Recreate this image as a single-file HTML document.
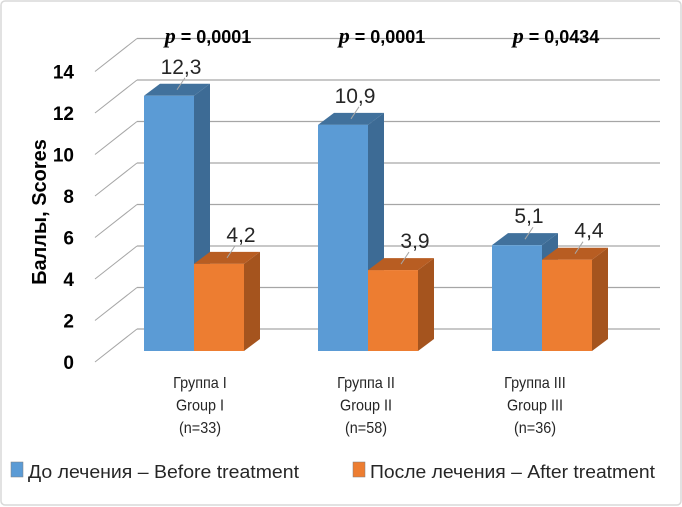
<!DOCTYPE html>
<html><head><meta charset="utf-8"><style>
body{margin:0;background:#fff;}
#wrap{position:relative;width:682px;height:507px;overflow:hidden;}
svg{position:absolute;left:0;top:0;}
</style></head><body>
<div id="wrap">
<svg id="chart" width="682" height="507" xmlns="http://www.w3.org/2000/svg"></svg>
</div>
<script>
const categories = [["Группа I","Group I","(n=33)"],["Группа II","Group II","(n=58)"],["Группа III","Group III","(n=36)"]];
const beforeValues = [12.3, 10.9, 5.1];
const afterValues = [4.2, 3.9, 4.4];
const valueLabels = [["12,3","4,2"],["10,9","3,9"],["5,1","4,4"]];
const pValues = ["= 0,0001","= 0,0001","= 0,0434"];
const yTicks = [0,2,4,6,8,10,12,14];

const NS="http://www.w3.org/2000/svg";
const svg=document.getElementById('chart');
function mk(tag,attrs,parent){const e=document.createElementNS(NS,tag);for(const k in attrs)e.setAttribute(k,attrs[k]);(parent||svg).appendChild(e);return e;}
const yBack=v=>329-v*20.75;
const yFront=v=>351-v*20.75;
const groupX=i=>144+i*174;
const BW=50, DX=16, DY=12;

let e=mk('rect',{x:1,y:1,width:680,height:504,rx:4,fill:'#fff',stroke:'#d9d9d9','stroke-width':1.5});



yTicks.forEach(t=>{
  const yb=yBack(t);
  let g=mk('line',{x1:137,y1:yb,x2:660,y2:yb,stroke:'#a6a6a6','stroke-width':1.3});
  
  
  let d=mk('line',{x1:95,y1:yb+33,x2:137,y2:yb,stroke:'#a6a6a6','stroke-width':1});
  
  
  let l=mk('text',{x:74,y:yb+40,'text-anchor':'end','font-family':'Liberation Sans, sans-serif','font-weight':'bold','font-size':19,fill:'#000'});
  l.textContent=t;
  
  
});

let yt=mk('text',{x:0,y:0,transform:'translate(46,212) rotate(-90)','text-anchor':'middle','font-family':'Liberation Sans, sans-serif','font-weight':'bold','font-size':20,fill:'#000'});
yt.textContent='Баллы,  Scores';



function bar(x,v,front,top,side,name){
  const yt=yFront(v), yb=yFront(0);
  const g=mk('g',{});
  
  
  mk('polygon',{points:`${x+BW},${yt} ${x+BW+DX},${yt-DY} ${x+BW+DX},${yb-DY} ${x+BW},${yb}`,fill:side},g);
  mk('polygon',{points:`${x},${yt} ${x+DX},${yt-DY} ${x+BW+DX},${yt-DY} ${x+BW},${yt}`,fill:top},g);
  mk('rect',{x:x,y:yt,width:BW,height:yb-yt,fill:front},g);
}
function label(x,v,txt,name,dx){
  const yt=yFront(v);
  let ln=mk('line',{x1:x+BW/2+8,y1:yt-6,x2:x+BW/2+16,y2:yt-18,stroke:'#a6a6a6','stroke-width':1});
  
  
  let t=mk('text',{x:x+BW/2+dx,y:yt-22,'text-anchor':'middle','font-family':'Liberation Sans, sans-serif','font-size':21,fill:'#262626'});
  t.textContent=txt;
  
  
}
const catCenters=[56,48,43];
categories.forEach((c,i)=>{
  const x=groupX(i);
  bar(x,beforeValues[i],'#5b9bd5','#41719c','#3d6b95','bar-before-'+(i+1));
  bar(x+BW,afterValues[i],'#ed7d31','#b85d22','#a5541e','bar-after-'+(i+1));
  label(x,beforeValues[i],valueLabels[i][0],'value-label-before',12);
  label(x+BW,afterValues[i],valueLabels[i][1],'value-label-after',22);
  c.forEach((s,k)=>{
    let t=mk('text',{x:x+catCenters[i],y:388+k*22.5,'text-anchor':'middle','font-family':'Liberation Sans, sans-serif','font-size':16,fill:'#262626',transform:`translate(${(x+catCenters[i])*0.1},0) scale(0.9,1)`});
    t.textContent=s;
    
    
  });
  let p=mk('text',{x:x+64,y:43,'text-anchor':'middle','font-family':'Liberation Sans, sans-serif','font-weight':'bold','font-size':18,fill:'#000'});
  
  
  const pi=mk('tspan',{'font-family':'Liberation Serif, serif','font-style':'italic','font-size':22},p);
  pi.textContent='p';
  const pt=mk('tspan',{},p);
  pt.textContent=' '+pValues[i];
});

function legend(x,len,color,txt,name){
  const g=mk('g',{});
  
  
  mk('rect',{x:x,y:462,width:12,height:15,fill:color,stroke:'#7f7f7f','stroke-width':0.5},g);
  const t=mk('text',{x:x+17,y:478,'font-family':'Liberation Sans, sans-serif','font-size':18,fill:'#262626',textLength:len,lengthAdjust:'spacingAndGlyphs'},g);
  t.textContent=txt;
}
legend(11,271,'#5b9bd5','До лечения – Before treatment','legend-before');
legend(353,285,'#ed7d31','После лечения – After treatment','legend-after');
</script>
</body></html>
